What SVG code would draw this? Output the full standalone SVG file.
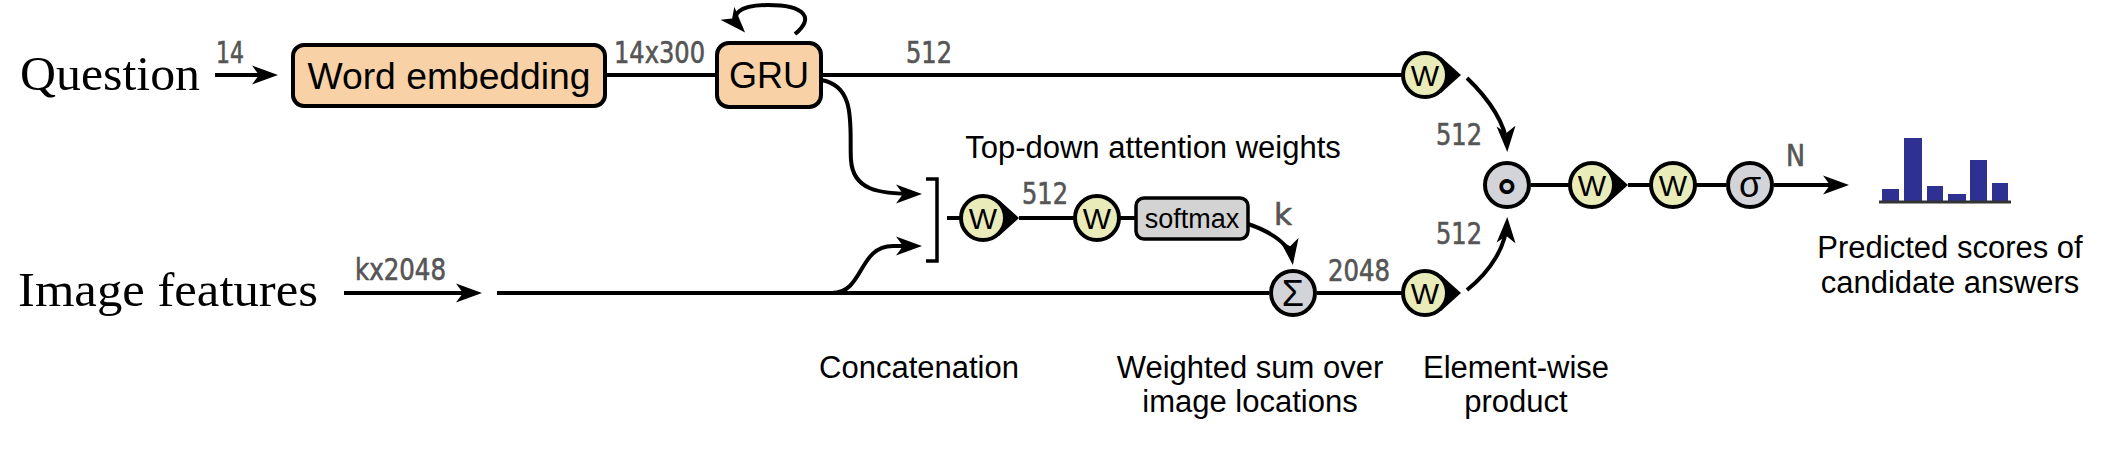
<svg xmlns="http://www.w3.org/2000/svg" width="2106" height="452" viewBox="0 0 2106 452">
<defs>
<marker id="ah" viewBox="-26 -10 26 20" markerWidth="26" markerHeight="20" refX="-6" refY="0" orient="auto" markerUnits="userSpaceOnUse">
<path d="M0,0 L-26,-9.5 L-19,0 L-26,9.5 Z" fill="#000"/>
</marker>
<style>
.ln{fill:none;stroke:#000;stroke-width:4}
.arr{marker-end:url(#ah)}
.box{fill:#f8d1a6;stroke:#000;stroke-width:4}
.sm{fill:#d3d3d3;stroke:#000;stroke-width:3.5}
.wc{fill:#e9ecb9;stroke:#000;stroke-width:4}
.gc{fill:#d2d4da;stroke:#000;stroke-width:4}
.tip{fill:#000}
.lbl{font-family:"DejaVu Sans Condensed","DejaVu Sans",sans-serif;font-stretch:condensed;font-size:30px;fill:#555;stroke:#555;stroke-width:0.6}
.txt{font-family:"Liberation Sans",Arial,sans-serif;font-size:31px;fill:#000;text-anchor:middle}
.serif{font-family:"Liberation Serif","Times New Roman",serif;font-size:48px;fill:#000}
.nt{font-family:"Liberation Sans",Arial,sans-serif;font-size:36px;fill:#000;text-anchor:middle}
.wt{font-family:"Liberation Sans",Arial,sans-serif;font-size:30px;fill:#000;text-anchor:middle}
.bar{fill:#2e3192}
</style>
</defs>
<rect width="2106" height="452" fill="#fff"/>

<g id="connectors">
<path class="ln arr" d="M215 75 L272 75"/>
<path class="ln" d="M605 75 L717 75"/>
<path class="ln" d="M821 75 L1403 75"/>
<path class="ln arr" d="M795 34 C815 18 805 5 768 5 C740 5 728 14 741 28"/>
<path class="ln arr" d="M344 293 L476 293"/>
<path class="ln" d="M497 293 L1269 293"/>
<path class="ln" d="M1317 293 L1403 293"/>
<path class="ln arr" d="M821 80 C858 86 849 130 851 160 C853 190 878 194 916 194"/>
<path class="ln arr" d="M832 293 C864 293 858 246 893 246 L916 246"/>
<path class="ln" style="stroke-width:3.5" d="M926 179 L937 179 L937 261 L926 261"/>
<path class="ln" d="M947 218 L961 218"/>
<path class="ln" d="M1019 218 L1075 218"/>
<path class="ln" d="M1119 218 L1136 218"/>
<path class="ln arr" d="M1248 224 C1272 232 1290 245 1292 259"/>
<path class="ln arr" d="M1467 78 C1490 100 1506 125 1507 146"/>
<path class="ln arr" d="M1467 290 C1492 270 1506 245 1507 223"/>
<path class="ln" d="M1531 185 L1570 185"/>
<path class="ln" d="M1628 185 L1651 185"/>
<path class="ln" d="M1695 185 L1726 185"/>
<path class="ln arr" d="M1774 185 L1843 185"/>
</g>

<g id="question"><text class="serif" x="20" y="90" textLength="180" lengthAdjust="spacingAndGlyphs">Question</text></g>
<g id="image-features"><text class="serif" x="18" y="306" textLength="300" lengthAdjust="spacingAndGlyphs">Image features</text></g>

<g id="word-embedding">
<rect class="box" x="293" y="45" width="312" height="61" rx="11"/>
<text class="nt" x="449" y="89" textLength="283" lengthAdjust="spacingAndGlyphs">Word embedding</text>
</g>
<g id="gru">
<rect class="box" x="717" y="43" width="104" height="64" rx="12"/>
<text class="nt" x="769" y="88">GRU</text>
</g>

<g id="w-top">
<polygon class="tip" points="1461,75 1441,57 1441,93"/>
<circle class="wc" cx="1425" cy="75" r="22"/>
<text class="wt" x="1425" y="86">W</text>
</g>
<g id="w-att1">
<polygon class="tip" points="1019,218 999,200 999,236"/>
<circle class="wc" cx="983" cy="218" r="22"/>
<text class="wt" x="983" y="229">W</text>
</g>
<g id="w-att2">
<circle class="wc" cx="1097" cy="218" r="22"/>
<text class="wt" x="1097" y="229">W</text>
</g>
<g id="softmax">
<rect class="sm" x="1136" y="198" width="112" height="41" rx="8"/>
<text class="txt" x="1192" y="228" style="font-size:27px">softmax</text>
</g>
<g id="sum">
<circle class="gc" cx="1293" cy="293" r="22"/>
<text class="wt" x="1293" y="306" style="font-size:36px">Σ</text>
</g>
<g id="w-img">
<polygon class="tip" points="1461,293 1441,275 1441,311"/>
<circle class="wc" cx="1425" cy="293" r="22"/>
<text class="wt" x="1425" y="304">W</text>
</g>
<g id="product">
<circle class="gc" cx="1507" cy="185" r="22"/>
<text class="wt" x="1507" y="201" style="font-family:'DejaVu Sans',sans-serif;font-size:46px;font-weight:bold">∘</text>
</g>
<g id="w-out1">
<polygon class="tip" points="1628,185 1608,167 1608,203"/>
<circle class="wc" cx="1592" cy="185" r="22"/>
<text class="wt" x="1592" y="196">W</text>
</g>
<g id="w-out2">
<circle class="wc" cx="1673" cy="185" r="22"/>
<text class="wt" x="1673" y="196">W</text>
</g>
<g id="sigmoid">
<circle class="gc" cx="1750" cy="185" r="22"/>
<text class="wt" x="1750" y="197" style="font-size:36px">σ</text>
</g>

<g id="scores">
<rect class="bar" x="1882" y="189" width="17" height="13"/>
<rect class="bar" x="1904" y="138" width="18" height="64"/>
<rect class="bar" x="1927" y="186" width="16" height="16"/>
<rect class="bar" x="1948" y="194" width="18" height="8"/>
<rect class="bar" x="1970" y="160" width="17" height="42"/>
<rect class="bar" x="1992" y="183" width="16" height="19"/>
<path d="M1879 202 L2011 202" stroke="#333" stroke-width="3"/>
<text class="txt" x="1950" y="258">Predicted scores of</text>
<text class="txt" x="1950" y="293">candidate answers</text>
</g>

<g id="labels">
<text class="lbl" x="216" y="63" textLength="28" lengthAdjust="spacingAndGlyphs">14</text>
<text class="lbl" x="614" y="63" textLength="91" lengthAdjust="spacingAndGlyphs">14x300</text>
<text class="lbl" x="906" y="63" textLength="46" lengthAdjust="spacingAndGlyphs">512</text>
<text class="lbl" x="355" y="280" textLength="91" lengthAdjust="spacingAndGlyphs">kx2048</text>
<text class="lbl" x="1022" y="204" textLength="46" lengthAdjust="spacingAndGlyphs">512</text>
<text class="lbl" x="1274" y="225" textLength="18" lengthAdjust="spacingAndGlyphs">k</text>
<text class="lbl" x="1328" y="281" textLength="62" lengthAdjust="spacingAndGlyphs">2048</text>
<text class="lbl" x="1436" y="145" textLength="46" lengthAdjust="spacingAndGlyphs">512</text>
<text class="lbl" x="1436" y="244" textLength="46" lengthAdjust="spacingAndGlyphs">512</text>
<text class="lbl" x="1786" y="166" textLength="19" lengthAdjust="spacingAndGlyphs">N</text>
</g>

<g id="captions">
<text class="txt" x="1153" y="158">Top-down attention weights</text>
<text class="txt" x="919" y="378">Concatenation</text>
<text class="txt" x="1250" y="378">Weighted sum over</text>
<text class="txt" x="1250" y="412">image locations</text>
<text class="txt" x="1516" y="378">Element-wise</text>
<text class="txt" x="1516" y="412">product</text>
</g>
</svg>
